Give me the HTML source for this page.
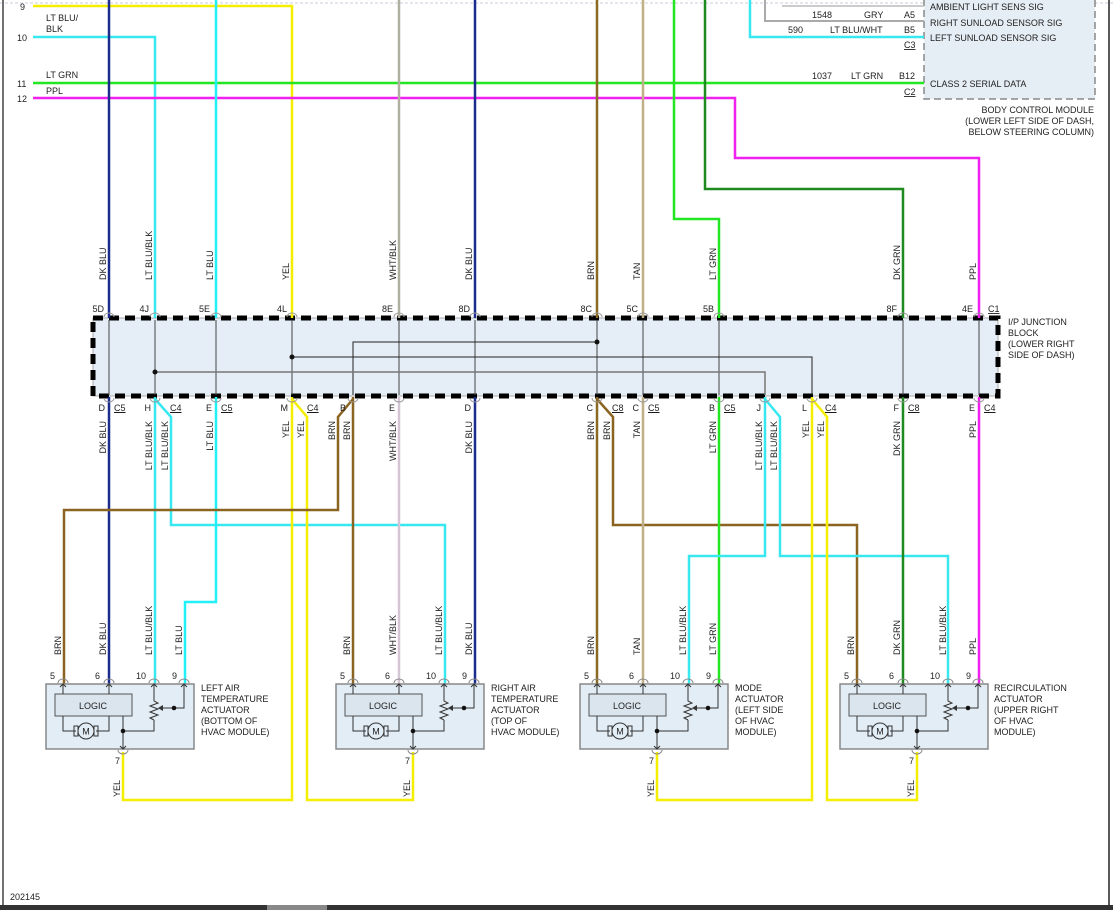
<!DOCTYPE html>
<html><head><meta charset="utf-8"><style>
html,body{margin:0;padding:0;background:#fff;}
svg{display:block;}
text{font-family:"Liberation Sans",sans-serif;font-size:9px;fill:#222;}
</style></head><body>
<svg width="1113" height="910" viewBox="0 0 1113 910" xmlns="http://www.w3.org/2000/svg">
<defs>
<g id="act">
  <rect x="0" y="0" width="148" height="65" fill="#e3edf5" stroke="#888" stroke-width="1.5"/>
  <rect x="9" y="10" width="77" height="22" fill="#dbe5ee" stroke="#555" stroke-width="1"/>
  <g stroke="#333" stroke-width="1" fill="none">
    <line x1="17" y1="0" x2="17" y2="10"/><polyline points="14,3 17,0 20,3"/>
    <line x1="63" y1="0" x2="63" y2="10"/><polyline points="60,3 63,0 66,3"/>
    <polyline points="17,32 17,47 30,47"/><polyline points="63,32 63,47 50,47"/>
    <circle cx="40" cy="47" r="8" fill="#e3edf5"/>
    <rect x="28" y="42" width="4" height="10"/><rect x="48" y="42" width="4" height="10"/>
    <line x1="77" y1="32" x2="77" y2="65"/><polyline points="74,62 77,65 80,62"/>
    <polyline points="77,47 108,47 108,36"/>
    <polyline points="108,36 104,34 112,31 104,28 112,25 104,22 112,19 108,17 108,0"/>
    <polyline points="105,3 108,0 111,3"/>
    <polyline points="138,0 138,24 114,24"/><polyline points="135,3 138,0 141,3"/>
  </g>
  <polygon points="112,24 117,21 117,27" fill="#333"/>
  <circle cx="77" cy="47" r="2.3" fill="#111"/><circle cx="128" cy="24" r="2.3" fill="#111"/>
  <g stroke="#888" fill="none" stroke-width="1">
    <path d="M12,-1 A5,4 0 0 1 22,-1"/><path d="M58,-1 A5,4 0 0 1 68,-1"/>
    <path d="M103,-1 A5,4 0 0 1 113,-1"/><path d="M133,-1 A5,4 0 0 1 143,-1"/>
    <path d="M72,66 A5,4 0 0 0 82,66"/>
  </g>
  <text x="47" y="25" text-anchor="middle">LOGIC</text>
  <text x="40" y="50.5" text-anchor="middle" font-size="8">M</text>
</g>
</defs>

<!-- borders -->
<line x1="0" y1="3" x2="1113" y2="3" stroke="#ccd" stroke-width="1" stroke-dasharray="3,2"/>
<line x1="3" y1="0" x2="3" y2="905" stroke="#444" stroke-width="1.5"/>
<line x1="1109" y1="0" x2="1109" y2="905" stroke="#222" stroke-width="1.5"/>
<rect x="0" y="905" width="1113" height="5" fill="#333"/>
<rect x="267" y="905" width="60" height="5" fill="#888"/>
<text x="10" y="900" font-size="8.5">202145</text>

<!-- BCM box -->
<rect x="924" y="-5" width="171" height="104" fill="#e6eef5" stroke="#888" stroke-width="1.5" stroke-dasharray="7,4"/>
<text x="930" y="10">AMBIENT LIGHT SENS SIG</text>
<text x="930" y="26">RIGHT SUNLOAD SENSOR SIG</text>
<text x="930" y="41">LEFT SUNLOAD SENSOR SIG</text>
<text x="930" y="87">CLASS 2 SERIAL DATA</text>
<text x="1094" y="113" text-anchor="end">BODY CONTROL MODULE</text>
<text x="1094" y="124" text-anchor="end">(LOWER LEFT SIDE OF DASH,</text>
<text x="1094" y="135" text-anchor="end">BELOW STEERING COLUMN)</text>
<text x="812" y="18">1548</text><text x="864" y="18">GRY</text><text x="904" y="18">A5</text>
<text x="788" y="33">590</text><text x="830" y="33">LT BLU/WHT</text><text x="904" y="33">B5</text>
<text x="904" y="48" text-decoration="underline">C3</text>
<text x="812" y="79">1037</text><text x="851" y="79">LT GRN</text><text x="899" y="79">B12</text>
<text x="904" y="95" text-decoration="underline">C2</text>

<!-- junction block -->
<rect x="93" y="318" width="905" height="78" fill="#e5eef6" stroke="#aaa" stroke-width="1"/>
<rect x="93" y="318" width="905" height="78" fill="none" stroke="#000" stroke-width="5" stroke-dasharray="10,6"/>
<text x="1008" y="325">I/P JUNCTION</text>
<text x="1008" y="336">BLOCK</text>
<text x="1008" y="347">(LOWER RIGHT</text>
<text x="1008" y="358">SIDE OF DASH)</text>

<!-- wires -->
<g fill="none" stroke-width="2.5" stroke-linejoin="miter">
  <polyline points="33,6 292,6 292,318" stroke="#f5ee00"/>
  <polyline points="33,37 155,37 155,318" stroke="#38e8f0"/>
  <line x1="33" y1="83" x2="924" y2="83" stroke="#22e622"/>
  <polyline points="33,98 735,98 735,158 979,158 979,318" stroke="#f020f0"/>
  <polyline points="782,6 924,6" stroke="#bbb" stroke-width="1.5"/>
  <polyline points="765,0 765,21 924,21" stroke="#aaa" stroke-width="2"/>
  <polyline points="750,0 750,37 924,37" stroke="#38e8f0"/>
  <line x1="109" y1="0" x2="109" y2="318" stroke="#1c2c8c"/>
  <line x1="216" y1="0" x2="216" y2="318" stroke="#22f0f8"/>
  <line x1="399" y1="0" x2="399" y2="318" stroke="#b0b0a0"/>
  <line x1="475" y1="0" x2="475" y2="318" stroke="#1c2c8c"/>
  <line x1="597" y1="0" x2="597" y2="318" stroke="#8a6a22"/>
  <line x1="643" y1="0" x2="643" y2="318" stroke="#bfb088"/>
  <polyline points="674,0 674,219 719,219 719,318" stroke="#22e622"/>
  <polyline points="705,0 705,189 903,189 903,318" stroke="#1f8a1f"/>

  <line x1="109" y1="397" x2="109" y2="684" stroke="#1c2c8c"/>
  <line x1="155" y1="397" x2="155" y2="684" stroke="#38e8f0"/>
  <polyline points="155,399 171,417 171,525 445,525 445,684" stroke="#38e8f0"/>
  <polyline points="216,397 216,602 185,602 185,684" stroke="#22f0f8"/>
  <polyline points="292,397 292,800 123,800 123,752" stroke="#f5ee00"/>
  <polyline points="292,399 307,417 307,800 413,800 413,752" stroke="#f5ee00"/>
  <line x1="353" y1="397" x2="353" y2="684" stroke="#8a6420"/>
  <polyline points="353,399 338,417 338,510 64,510 64,684" stroke="#8a6420"/>
  <line x1="399" y1="397" x2="399" y2="684" stroke="#d4c4d4"/>
  <line x1="475" y1="397" x2="475" y2="684" stroke="#1c2c8c"/>
  <line x1="597" y1="397" x2="597" y2="684" stroke="#8a6a22"/>
  <polyline points="597,399 613,417 613,525 857,525 857,684" stroke="#8a6420"/>
  <line x1="643" y1="397" x2="643" y2="684" stroke="#bfb088"/>
  <line x1="719" y1="397" x2="719" y2="684" stroke="#22e622"/>
  <polyline points="765,397 765,556 689,556 689,684" stroke="#38e8f0"/>
  <polyline points="765,399 780,417 780,556 948,556 948,684" stroke="#38e8f0"/>
  <polyline points="812,397 812,800 657,800 657,752" stroke="#f5ee00"/>
  <polyline points="812,399 827,417 827,800 917,800 917,752" stroke="#f5ee00"/>
  <line x1="903" y1="397" x2="903" y2="684" stroke="#1f8a1f"/>
  <line x1="979" y1="397" x2="979" y2="684" stroke="#f020f0"/>
</g>

<!-- junction internals -->
<g stroke="#444" stroke-width="1" fill="none">
  <line x1="109" y1="320" x2="109" y2="395"/><line x1="155" y1="320" x2="155" y2="395"/>
  <line x1="216" y1="320" x2="216" y2="395"/><line x1="292" y1="320" x2="292" y2="395"/>
  <line x1="399" y1="320" x2="399" y2="395"/><line x1="475" y1="320" x2="475" y2="395"/>
  <line x1="597" y1="320" x2="597" y2="395"/><line x1="643" y1="320" x2="643" y2="395"/>
  <line x1="719" y1="320" x2="719" y2="395"/><line x1="903" y1="320" x2="903" y2="395"/>
  <line x1="979" y1="320" x2="979" y2="395"/>
  <polyline points="597,342 353,342 353,395" stroke="#222"/>
  <polyline points="292,357 812,357 812,395" stroke="#222"/>
  <polyline points="155,372 765,372 765,395" stroke="#777" stroke-width="1.5"/>
</g>
<g fill="#111"><circle cx="597" cy="342" r="2.5"/><circle cx="292" cy="357" r="2.5"/><circle cx="155" cy="372" r="2.5"/></g>
<g stroke="#999" fill="none" stroke-width="1">
  <path d="M104,317 A5,4 0 0 1 114,317"/><path d="M150,317 A5,4 0 0 1 160,317"/><path d="M211,317 A5,4 0 0 1 221,317"/>
  <path d="M287,317 A5,4 0 0 1 297,317"/><path d="M394,317 A5,4 0 0 1 404,317"/><path d="M470,317 A5,4 0 0 1 480,317"/>
  <path d="M592,317 A5,4 0 0 1 602,317"/><path d="M638,317 A5,4 0 0 1 648,317"/><path d="M714,317 A5,4 0 0 1 724,317"/>
  <path d="M898,317 A5,4 0 0 1 908,317"/><path d="M974,317 A5,4 0 0 1 984,317"/>
  <path d="M104,398 A5,4 0 0 0 114,398"/><path d="M150,398 A5,4 0 0 0 160,398"/><path d="M211,398 A5,4 0 0 0 221,398"/>
  <path d="M287,398 A5,4 0 0 0 297,398"/><path d="M348,398 A5,4 0 0 0 358,398"/><path d="M394,398 A5,4 0 0 0 404,398"/>
  <path d="M470,398 A5,4 0 0 0 480,398"/><path d="M592,398 A5,4 0 0 0 602,398"/><path d="M638,398 A5,4 0 0 0 648,398"/>
  <path d="M714,398 A5,4 0 0 0 724,398"/><path d="M760,398 A5,4 0 0 0 770,398"/><path d="M807,398 A5,4 0 0 0 817,398"/>
  <path d="M898,398 A5,4 0 0 0 908,398"/><path d="M974,398 A5,4 0 0 0 984,398"/>
</g>

<text x="20" y="10">9</text><text x="17" y="41">10</text><text x="17" y="87">11</text><text x="17" y="102">12</text>
<text x="46" y="21">LT BLU/</text><text x="46" y="32">BLK</text>
<text x="46" y="78">LT GRN</text><text x="46" y="94">PPL</text>

<g text-anchor="end">
<text x="104" y="312">5D</text><text x="149" y="312">4J</text><text x="210" y="312">5E</text><text x="287" y="312">4L</text>
<text x="393" y="312">8E</text><text x="470" y="312">8D</text><text x="592" y="312">8C</text><text x="638" y="312">5C</text>
<text x="714" y="312">5B</text><text x="897" y="312">8F</text><text x="973" y="312">4E</text>
</g>
<text x="988" y="312" text-decoration="underline">C1</text>
<g text-anchor="end">
<text x="105" y="411">D</text><text x="151" y="411">H</text><text x="212" y="411">E</text><text x="288" y="411">M</text>
<text x="346" y="411">B</text><text x="395" y="411">E</text><text x="471" y="411">D</text><text x="593" y="411">C</text>
<text x="639" y="411">C</text><text x="715" y="411">B</text><text x="761" y="411">J</text><text x="807" y="411">L</text>
<text x="899" y="411">F</text><text x="975" y="411">E</text>
</g>
<g text-decoration="underline">
<text x="114" y="411">C5</text><text x="170" y="411">C4</text><text x="221" y="411">C5</text><text x="307" y="411">C4</text>
<text x="612" y="411">C8</text><text x="648" y="411">C5</text><text x="724" y="411">C5</text><text x="825" y="411">C4</text>
<text x="908" y="411">C8</text><text x="984" y="411">C4</text>
</g>

<g>
<text transform="translate(106,280) rotate(-90)">DK BLU</text>
<text transform="translate(152,280) rotate(-90)">LT BLU/BLK</text>
<text transform="translate(213,280) rotate(-90)">LT BLU</text>
<text transform="translate(289,280) rotate(-90)">YEL</text>
<text transform="translate(396,280) rotate(-90)">WHT/BLK</text>
<text transform="translate(472,280) rotate(-90)">DK BLU</text>
<text transform="translate(594,280) rotate(-90)">BRN</text>
<text transform="translate(640,280) rotate(-90)">TAN</text>
<text transform="translate(716,280) rotate(-90)">LT GRN</text>
<text transform="translate(900,280) rotate(-90)">DK GRN</text>
<text transform="translate(976,280) rotate(-90)">PPL</text>
</g>
<g text-anchor="end">
<text transform="translate(106,421) rotate(-90)">DK BLU</text>
<text transform="translate(152,421) rotate(-90)">LT BLU/BLK</text>
<text transform="translate(168,421) rotate(-90)">LT BLU/BLK</text>
<text transform="translate(213,421) rotate(-90)">LT BLU</text>
<text transform="translate(289,421) rotate(-90)">YEL</text>
<text transform="translate(304,421) rotate(-90)">YEL</text>
<text transform="translate(335,421) rotate(-90)">BRN</text>
<text transform="translate(350,421) rotate(-90)">BRN</text>
<text transform="translate(396,421) rotate(-90)">WHT/BLK</text>
<text transform="translate(472,421) rotate(-90)">DK BLU</text>
<text transform="translate(594,421) rotate(-90)">BRN</text>
<text transform="translate(610,421) rotate(-90)">BRN</text>
<text transform="translate(640,421) rotate(-90)">TAN</text>
<text transform="translate(716,421) rotate(-90)">LT GRN</text>
<text transform="translate(762,421) rotate(-90)">LT BLU/BLK</text>
<text transform="translate(777,421) rotate(-90)">LT BLU/BLK</text>
<text transform="translate(809,421) rotate(-90)">YEL</text>
<text transform="translate(824,421) rotate(-90)">YEL</text>
<text transform="translate(900,421) rotate(-90)">DK GRN</text>
<text transform="translate(976,421) rotate(-90)">PPL</text>
</g>

<use href="#act" x="46" y="684"/>
<use href="#act" x="336" y="684"/>
<use href="#act" x="580" y="684"/>
<use href="#act" x="840" y="684"/>

<g>
<text transform="translate(61,655) rotate(-90)">BRN</text>
<text transform="translate(106,655) rotate(-90)">DK BLU</text>
<text transform="translate(152,655) rotate(-90)">LT BLU/BLK</text>
<text transform="translate(182,655) rotate(-90)">LT BLU</text>
<text transform="translate(350,655) rotate(-90)">BRN</text>
<text transform="translate(396,655) rotate(-90)">WHT/BLK</text>
<text transform="translate(442,655) rotate(-90)">LT BLU/BLK</text>
<text transform="translate(472,655) rotate(-90)">DK BLU</text>
<text transform="translate(594,655) rotate(-90)">BRN</text>
<text transform="translate(640,655) rotate(-90)">TAN</text>
<text transform="translate(686,655) rotate(-90)">LT BLU/BLK</text>
<text transform="translate(716,655) rotate(-90)">LT GRN</text>
<text transform="translate(854,655) rotate(-90)">BRN</text>
<text transform="translate(900,655) rotate(-90)">DK GRN</text>
<text transform="translate(946,655) rotate(-90)">LT BLU/BLK</text>
<text transform="translate(976,655) rotate(-90)">PPL</text>
<text transform="translate(120,797) rotate(-90)">YEL</text>
<text transform="translate(410,797) rotate(-90)">YEL</text>
<text transform="translate(654,797) rotate(-90)">YEL</text>
<text transform="translate(914,797) rotate(-90)">YEL</text>
</g>
<g>
<text x="50" y="679">5</text><text x="95" y="679">6</text><text x="136" y="679">10</text><text x="172" y="679">9</text><text x="115" y="764">7</text>
<text x="340" y="679">5</text><text x="385" y="679">6</text><text x="426" y="679">10</text><text x="462" y="679">9</text><text x="405" y="764">7</text>
<text x="584" y="679">5</text><text x="629" y="679">6</text><text x="670" y="679">10</text><text x="706" y="679">9</text><text x="649" y="764">7</text>
<text x="844" y="679">5</text><text x="889" y="679">6</text><text x="930" y="679">10</text><text x="966" y="679">9</text><text x="909" y="764">7</text>
</g>
<g>
<text x="201" y="691">LEFT AIR</text><text x="201" y="702">TEMPERATURE</text><text x="201" y="713">ACTUATOR</text><text x="201" y="724">(BOTTOM OF</text><text x="201" y="735">HVAC MODULE)</text>
<text x="491" y="691">RIGHT AIR</text><text x="491" y="702">TEMPERATURE</text><text x="491" y="713">ACTUATOR</text><text x="491" y="724">(TOP OF</text><text x="491" y="735">HVAC MODULE)</text>
<text x="735" y="691">MODE</text><text x="735" y="702">ACTUATOR</text><text x="735" y="713">(LEFT SIDE</text><text x="735" y="724">OF HVAC</text><text x="735" y="735">MODULE)</text>
<text x="994" y="691">RECIRCULATION</text><text x="994" y="702">ACTUATOR</text><text x="994" y="713">(UPPER RIGHT</text><text x="994" y="724">OF HVAC</text><text x="994" y="735">MODULE)</text>
</g>
</svg>
</body></html>
